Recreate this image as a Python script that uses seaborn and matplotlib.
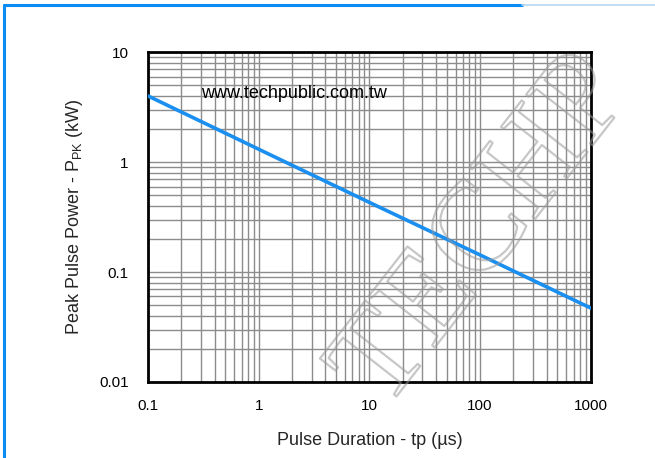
import numpy as np
import pandas as pd
import seaborn as sns
import matplotlib.pyplot as plt
import matplotlib.patheffects as pe
from matplotlib.ticker import LogLocator, FixedLocator, NullFormatter

# pulse duration (us) and peak pulse power (kW)
pulse_us = [0.1, 1, 10, 100, 1000]
power_kw = [4.0, 1.31, 0.43, 0.143, 0.047]
x_ticks = [0.1, 1, 10, 100, 1000]
x_labels = ['0.1', '1', '10', '100', '1000']
y_ticks = [0.01, 0.1, 1, 10]
y_labels = ['0.01', '0.1', '1', '10']

df = pd.DataFrame({'tp': pulse_us, 'ppk': power_kw})

sns.set_style('white')
plt.rcParams['font.family'] = ['Liberation Sans', 'DejaVu Sans']

fig = plt.figure(figsize=(6.55, 4.58), dpi=100)
ax = fig.add_axes([0.226, 0.166, 0.676, 0.720])

ax.set_xscale('log')
ax.set_yscale('log')
sns.lineplot(data=df, x='tp', y='ppk', ax=ax, color='#1a8ff0', linewidth=2.6, zorder=5)

ax.set_xlim(0.1, 1000)
ax.set_ylim(0.01, 10)
ax.xaxis.set_major_locator(FixedLocator(x_ticks))
ax.yaxis.set_major_locator(FixedLocator(y_ticks))
ax.set_xticklabels(x_labels)
ax.set_yticklabels(y_labels)
ax.xaxis.set_minor_locator(LogLocator(base=10, subs=np.arange(2, 10)))
ax.yaxis.set_minor_locator(LogLocator(base=10, subs=np.arange(2, 10)))
ax.xaxis.set_minor_formatter(NullFormatter())
ax.yaxis.set_minor_formatter(NullFormatter())
ax.grid(True, which='both', color='#8c8c8c', linewidth=1.0)
ax.tick_params(which='both', length=0, labelsize=11, colors='black')
ax.tick_params(axis='x', pad=12)
ax.tick_params(axis='y', pad=14)
for s in ax.spines.values():
    s.set_color('black')
    s.set_linewidth(2)

ax.set_xlabel('Pulse Duration - tp (µs)', fontsize=13, labelpad=14)
ax.set_ylabel('Peak Pulse Power - P$_{\\mathregular{PK}}$ (kW)', fontsize=13, labelpad=10)
ax.text(0.12, 0.86, 'www.techpublic.com.tw', transform=ax.transAxes, fontsize=13,
        color='black', zorder=6)

# blue frame of the datasheet figure
fig.add_artist(plt.Line2D([0.006, 0.797], [0.989, 0.989], color='#0a8cf5', lw=2.2))
fig.add_artist(plt.Line2D([0.797, 1.0], [0.989, 0.989], color='#b8d8f0', lw=1.2))
fig.add_artist(plt.Line2D([0.006, 0.006], [0.0, 0.989], color='#0a8cf5', lw=2.2))

# faint outlined watermark
fig.text(0.74, 0.49, 'TECHP', fontsize=92, family='Liberation Serif', rotation=52,
         ha='center', va='center', color=(1, 1, 1, 0), zorder=10,
         path_effects=[pe.Stroke(linewidth=1.6, foreground=(0.6, 0.6, 0.6, 0.55)),
                       pe.Normal()])

fig.savefig('out.png', dpi=100)
